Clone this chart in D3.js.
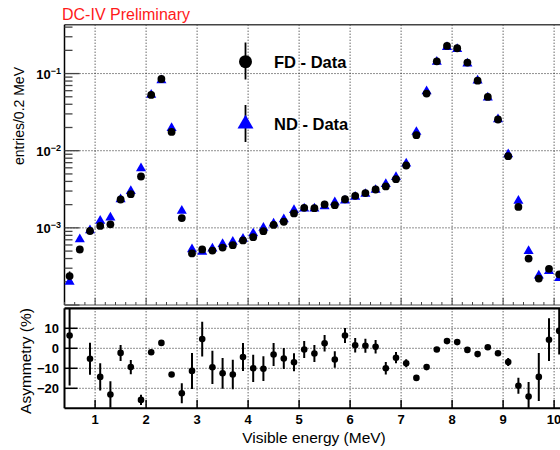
<!DOCTYPE html>
<meta charset="utf-8">
<script src="https://cdn.jsdelivr.net/npm/d3@7"></script>
<style>
  body { margin: 0; background: #fff; }
  text { font-family: "Liberation Sans", Arial, sans-serif; }
</style>
<body>
<script>

var width = 560
var height = 450

// bin centres (MeV)
var energy = [0.5, 0.7, 0.9, 1.1, 1.3, 1.5, 1.7, 1.9, 2.1, 2.3, 2.5, 2.7, 2.9, 3.1, 3.3, 3.5, 3.7, 3.9,
              4.1, 4.3, 4.5, 4.7, 4.9, 5.1, 5.3, 5.5, 5.7, 5.9, 6.1, 6.3, 6.5, 6.7, 6.9, 7.1, 7.3, 7.5,
              7.7, 7.9, 8.1, 8.3, 8.5, 8.7, 8.9, 9.1, 9.3, 9.5, 9.7, 9.9, 10.1]

var fdData = [2.37e-4, 5.25e-4, 9.1e-4, 1.06e-3, 1.11e-3, 2.33e-3, 2.73e-3, 4.63e-3, 5.28e-2, 8.5e-2, 1.75e-2, 1.34e-3,
              4.66e-4, 5.25e-4, 5.08e-4, 5.55e-4, 5.97e-4, 6.87e-4, 7.58e-4, 9.06e-4, 1.09e-3, 1.20e-3, 1.54e-3,
              1.82e-3, 1.80e-3, 2.01e-3, 1.97e-3, 2.35e-3, 2.60e-3, 2.82e-3, 3.14e-3, 3.44e-3, 4.27e-3, 6.43e-3,
              1.59e-2, 5.51e-2, 0.144, 0.228, 0.213, 0.139, 0.081, 0.0498, 0.0254, 8.5e-3, 1.87e-3, 4.0e-4,
              2.2e-4, 2.94e-4, 2.5e-4]

var fdRelErr = [0.15, 0.11, 0.06, 0.05, 0.05, 0.03, 0.03, 0.02, 0.005, 0.004, 0.008, 0.04, 0.07, 0.06, 0.06, 0.05,
                0.05, 0.05, 0.05, 0.04, 0.04, 0.04, 0.03, 0.03, 0.03, 0.03, 0.03, 0.03, 0.03, 0.03, 0.02, 0.02,
                0.02, 0.015, 0.01, 0.005, 0.003, 0.003, 0.003, 0.003, 0.004, 0.005, 0.007, 0.015, 0.03, 0.06,
                0.09, 0.08, 0.08]

var ndData = [2.0e-4, 7.1e-4, 9.3e-4, 1.23e-3, 1.36e-3, 2.35e-3, 3.0e-3, 5.9e-3, 5.3e-2, 8.2e-2, 1.97e-2, 1.66e-3,
              5.25e-4, 4.9e-4, 5.4e-4, 6.15e-4, 6.6e-4, 7.2e-4, 8.46e-4, 1.0e-3, 1.14e-3, 1.29e-3, 1.70e-3,
              1.78e-3, 1.78e-3, 1.90e-3, 2.14e-3, 2.25e-3, 2.52e-3, 2.75e-3, 3.1e-3, 3.7e-3, 4.56e-3, 6.8e-3,
              1.75e-2, 5.9e-2, 0.142, 0.22, 0.207, 0.135, 0.081, 0.049, 0.0255, 9.0e-3, 2.24e-3, 5.0e-4,
              2.4e-4, 2.76e-4, 2.24e-4]

// asymmetry (%) and its error, null where the point is off the plot
var asym = [6.4, null, -5.2, -14.3, -23.1, -2.3, -9.4, -25.8, -2.0, 2.7, -13.1, -22.5, -11.3, 4.6, -9.5, -12.5,
            -13.1, -4.4, -10, -10.2, -3.1, -5.1, -7, -0.6, -2.6, 2.5, -5.6, 6.4, 1.5, 1.3, 0.8, -10, -4.7, -7.5,
            -14.8, -9.4, -0.6, 3.6, 3.1, -0.8, -2.9, 0.5, -2.5, -6.9, -18.7, -24.1, -14.3, 4.3, 8.7]
var asymErr = [25, null, 8, 6.8, 6.6, 4, 3.6, 2.6, 0.8, 0.7, 1.2, 5, 9, 8.7, 8.3, 7.7, 7.4, 7, 6.8, 6.2, 5.7,
               5.2, 4.5, 4.3, 4.3, 4.1, 4.1, 3.7, 3.6, 3.5, 3.4, 3.1, 2.8, 2, 1.4, 0.8, 0.5, 0.4, 0.4, 0.5, 0.6,
               0.8, 1, 2, 4, 7.3, 12, 10.7, 11.8]

var xTicks = [1, 2, 3, 4, 5, 6, 7, 8, 9, 10]
var topDecades = [-1, -2, -3]
var asymTicks = [10, 0, -10, -20]

var left = 64.5
var x = d3.scaleLinear().domain([0.4, 10.2]).range([left, left + 9.8*51])
var yTop = d3.scaleLog().domain([1e-4, 0.43]).range([305, 24.7])
var yBot = d3.scaleLinear().domain([-30, 20]).range([408.3, 308.3])

var svg = d3.select("body").append("svg")
            .attr("width", width)
            .attr("height", height)

var gridColor = "#222"

// ---- top panel ----
var topG = svg.append("g")

topG.selectAll(".vgrid").data(xTicks).enter().append("line")
   .attr("x1", d => x(d)).attr("x2", d => x(d))
   .attr("y1", yTop.range()[1]).attr("y2", yTop.range()[0])
   .attr("stroke", gridColor).attr("stroke-width", 1).attr("stroke-dasharray", "1,2")

topG.selectAll(".hgrid").data(topDecades).enter().append("line")
   .attr("x1", left).attr("x2", width)
   .attr("y1", d => yTop(Math.pow(10, d))).attr("y2", d => yTop(Math.pow(10, d)))
   .attr("stroke", gridColor).attr("stroke-width", 1).attr("stroke-dasharray", "1,2")

// frame
topG.append("line").attr("x1", left).attr("x2", width).attr("y1", 24.7).attr("y2", 24.7)
   .attr("stroke", "#444").attr("stroke-width", 1.5)
topG.append("line").attr("x1", left).attr("x2", left).attr("y1", 24.7).attr("y2", 305)
   .attr("stroke", "#000").attr("stroke-width", 1.5)
topG.append("line").attr("x1", left).attr("x2", width).attr("y1", 305).attr("y2", 305)
   .attr("stroke", "#555").attr("stroke-width", 1)

// log minor/major ticks on the left
var logTicks = yTop.ticks()
topG.selectAll(".ytick").data(logTicks).enter().append("line")
   .attr("x1", left)
   .attr("x2", d => left + (Math.abs(Math.log10(d) - Math.round(Math.log10(d))) < 1e-6 ? 15 : 8))
   .attr("y1", d => yTop(d)).attr("y2", d => yTop(d))
   .attr("stroke", "#444").attr("stroke-width", 1.3)

// x ticks along bottom of top panel
var minorX = d3.range(4, 103, 2).map(d => d / 10)
topG.selectAll(".xminor").data(minorX).enter().append("line")
   .attr("x1", d => x(d)).attr("x2", d => x(d))
   .attr("y1", 305).attr("y2", d => Math.abs(d - Math.round(d)) < 1e-6 ? 298 : 302)
   .attr("stroke", "#444").attr("stroke-width", 1)

var ylab = topG.selectAll(".ylab").data(topDecades).enter().append("text")
   .attr("x", 61).attr("y", d => yTop(Math.pow(10, d)) + 5)
   .attr("text-anchor", "end")
   .style("font-size", "13px").style("font-weight", "bold")
ylab.append("tspan").text("10")
ylab.append("tspan").attr("dy", -5).style("font-size", "9px").text(d => "\u2212" + (-d))

// FD error bars
topG.selectAll(".fderr").data(energy).enter().append("line")
   .attr("x1", d => x(d)).attr("x2", d => x(d))
   .attr("y1", (d, i) => yTop(fdData[i] * (1 + fdRelErr[i])))
   .attr("y2", (d, i) => yTop(fdData[i] * (1 - fdRelErr[i])))
   .attr("stroke", "#000").attr("stroke-width", 1.5)

// ND triangles
var tri = d3.symbol().type(d3.symbolTriangle).size(44)
topG.selectAll(".nd").data(energy).enter().append("path")
   .attr("d", tri)
   .attr("transform", (d, i) => "translate(" + x(d) + "," + yTop(ndData[i]) + ")")
   .attr("fill", "#0000ff")

// FD circles
topG.selectAll(".fd").data(energy).enter().append("circle")
   .attr("cx", d => x(d)).attr("cy", (d, i) => yTop(fdData[i]))
   .attr("r", 3.9).attr("fill", "#000")

// legend
svg.append("line").attr("x1", 245.5).attr("x2", 245.5).attr("y1", 42.5).attr("y2", 79.5)
   .attr("stroke", "#000").attr("stroke-width", 1.8)
svg.append("circle").attr("cx", 245.5).attr("cy", 61.7).attr("r", 6.5).attr("fill", "#000")
svg.append("text").attr("x", 274).attr("y", 67.5).text("FD - Data")
   .style("font-size", "16.5px").style("font-weight", "bold")

svg.append("line").attr("x1", 245.5).attr("x2", 245.5).attr("y1", 105).attr("y2", 142)
   .attr("stroke", "#000").attr("stroke-width", 1.8)
svg.append("path").attr("d", d3.symbol().type(d3.symbolTriangle).size(110))
   .attr("transform", "translate(245.5,124)").attr("fill", "#0000ff")
svg.append("text").attr("x", 274).attr("y", 130).text("ND - Data")
   .style("font-size", "16.5px").style("font-weight", "bold")

// titles
svg.append("text").attr("x", 62).attr("y", 20).text("DC-IV Preliminary")
   .attr("fill", "#ff1a1a").style("font-size", "16px")

svg.append("text")
   .attr("transform", "translate(24,67) rotate(-90)")
   .attr("text-anchor", "end")
   .style("font-size", "14px")
   .text("entries/0.2 MeV")

// ---- bottom panel ----
var bot = svg.append("g")

bot.selectAll(".vgrid").data(xTicks).enter().append("line")
   .attr("x1", d => x(d)).attr("x2", d => x(d))
   .attr("y1", 308.3).attr("y2", 408.3)
   .attr("stroke", gridColor).attr("stroke-width", 1).attr("stroke-dasharray", "1,2")

bot.selectAll(".hgrid").data(asymTicks).enter().append("line")
   .attr("x1", left).attr("x2", width)
   .attr("y1", d => yBot(d)).attr("y2", d => yBot(d))
   .attr("stroke", gridColor).attr("stroke-width", 1).attr("stroke-dasharray", "1,2")

bot.append("line").attr("x1", left).attr("x2", width).attr("y1", 308.3).attr("y2", 308.3)
   .attr("stroke", "#000").attr("stroke-width", 2.2)
bot.append("line").attr("x1", left).attr("x2", width).attr("y1", 408.3).attr("y2", 408.3)
   .attr("stroke", "#000").attr("stroke-width", 2)
bot.append("line").attr("x1", left).attr("x2", left).attr("y1", 308.3).attr("y2", 408.3)
   .attr("stroke", "#000").attr("stroke-width", 2)

bot.selectAll(".ytick").data(asymTicks).enter().append("line")
   .attr("x1", left).attr("x2", left + 13)
   .attr("y1", d => yBot(d)).attr("y2", d => yBot(d))
   .attr("stroke", "#000").attr("stroke-width", 1.5)

bot.selectAll(".xtick").data(xTicks).enter().append("line")
   .attr("x1", d => x(d)).attr("x2", d => x(d))
   .attr("y1", 408.3).attr("y2", 400)
   .attr("stroke", "#000").attr("stroke-width", 1.5)

bot.selectAll(".ylab").data(asymTicks).enter().append("text")
   .attr("x", 59).attr("y", d => yBot(d) + 5)
   .attr("text-anchor", "end")
   .style("font-size", "13px").style("font-weight", "bold")
   .text(d => d < 0 ? "\u2212" + (-d) : d)

bot.selectAll(".xlab").data(xTicks).enter().append("text")
   .attr("x", d => x(d)).attr("y", 424)
   .attr("text-anchor", "middle")
   .style("font-size", "13px").style("font-weight", "bold")
   .text(d => d)

var pts = energy.map((e, i) => ({e: e, v: asym[i], err: asymErr[i]})).filter(d => d.v !== null)

svg.append("clipPath").attr("id", "botclip").append("rect")
   .attr("x", left).attr("y", 308.3).attr("width", width - left).attr("height", 100)

var pg = bot.append("g").attr("clip-path", "url(#botclip)")
pg.selectAll(".aerr").data(pts).enter().append("line")
   .attr("x1", d => x(d.e)).attr("x2", d => x(d.e))
   .attr("y1", d => yBot(d.v + d.err)).attr("y2", d => yBot(d.v - d.err))
   .attr("stroke", "#000").attr("stroke-width", 2)
pg.selectAll(".apt").data(pts).enter().append("circle")
   .attr("cx", d => x(d.e)).attr("cy", d => yBot(d.v))
   .attr("r", 3.3).attr("fill", "#000")

svg.append("text")
   .attr("transform", "translate(31,361) rotate(-90)")
   .attr("text-anchor", "middle")
   .style("font-size", "15.5px")
   .text("Asymmetry (%)")

svg.append("text")
   .attr("x", 314).attr("y", 443)
   .attr("text-anchor", "middle")
   .style("font-size", "15.5px")
   .text("Visible energy (MeV)")

</script>
</body>
